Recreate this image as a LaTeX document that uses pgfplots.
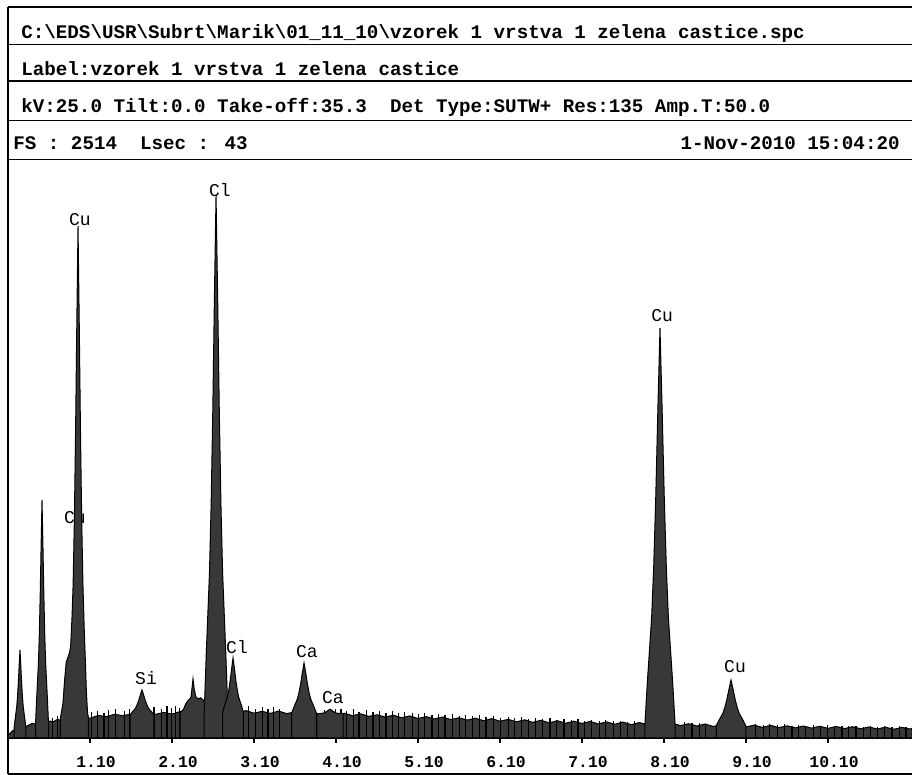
\documentclass[border=0pt]{standalone}
\usepackage{pgfplots}
\pgfplotsset{compat=1.18}
\usepackage{fontspec}
\setmainfont{Liberation Mono}
\newfontfamily\cour{Liberation Mono}
\begin{document}
\begin{tikzpicture}[x=0.5pt,y=0.5pt,
  spec/.style={draw=black, line width=0.5pt, fill=black!78, mark=none},
  lab/.style={font=\cour\fontsize{9}{10}\selectfont, inner sep=0pt}]
\useasboundingbox (0,0) rectangle (912,775);
% frame and header rules
\draw[line width=0.75pt] (8,768) -- (912,768);
\draw[line width=0.75pt] (8,730.5) -- (912,730.5);
\draw[line width=0.75pt] (8,694) -- (912,694);
\draw[line width=0.75pt] (8,654.5) -- (912,654.5);
\draw[line width=0.75pt] (8,615.5) -- (912,615.5);
\draw[line width=0.6pt] (8,768) -- (8,1);
\draw[line width=0.75pt] (8,1) -- (912,1);
% header texts
\begin{scope}[every node/.style={inner sep=0pt, font=\cour\bfseries\fontsize{9.6}{11}\selectfont}]
\node[anchor=base west] at (21,736) {C:\textbackslash EDS\textbackslash USR\textbackslash Subrt\textbackslash Marik\textbackslash 01\_11\_10\textbackslash vzorek 1 vrstva 1 zelena castice.spc};
\node[anchor=base west] at (21,699.5) {Label:vzorek 1 vrstva 1 zelena castice};
\node[anchor=base west] at (21,662.5) {kV:25.0 Tilt:0.0 Take-off:35.3~~Det Type:SUTW+ Res:135 Amp.T:50.0};
\node[anchor=base west] at (13,625) {FS : 2514~~Lsec : 43};
\node[anchor=base east] at (900,625) {1-Nov-2010 15:04:20};
\end{scope}
\begin{axis}[
  at={(4pt,18.5pt)}, anchor=south west,
  scale only axis, width=452pt, height=289pt,
  xmin=0.1, xmax=11.124, ymin=0, ymax=2514,
  axis x line=bottom, axis y line=none,
  x axis line style={-, line width=0.9pt},
  xtick={1.1,2.1,3.1,4.1,5.1,6.1,7.1,8.1,9.1,10.1},
  xticklabels={1.10,2.10,3.10,4.10,5.10,6.10,7.10,8.10,9.10,10.10},
  ytick=\empty,
  tick align=outside, major tick length=2.5pt,
  tick style={black, line width=0.6pt},
  xticklabel style={font=\cour\bfseries\fontsize{8.2}{9}\selectfont, xshift=3pt, yshift=-3pt},
]
% label partly hidden by the Cu L peak
\node[lab] at (axis cs:0.917,957) {Cu};
% continuum background
\addplot[spec] coordinates {(0.1,10)(0.15,30)(0.2,40)(0.3,47)(0.4,64)(0.45,58)(0.5,62)(0.6,74)(0.65,70)(0.7,80)(0.75,78)(0.8,91)(0.9,85)(1.0,91)(1.1,86)(1.2,98)(1.3,93)(1.4,103)(1.5,97)(1.6,104)(1.7,100)(1.8,110)(1.9,103)(2.0,111)(2.1,104)(2.2,115)(2.3,108)(2.4,116)(2.5,109)(2.6,118)(2.7,110)(2.8,117)(2.9,109)(3.0,119)(3.1,108)(3.2,116)(3.3,107)(3.4,117)(3.5,106)(3.6,114)(3.7,105)(3.8,113)(3.9,102)(4.0,111)(4.1,100)(4.2,108)(4.3,97)(4.4,105)(4.5,94)(4.6,101)(4.7,91)(4.8,99)(4.9,88)(5.0,96)(5.1,85)(5.2,93)(5.3,83)(5.4,91)(5.5,80)(5.6,88)(5.7,78)(5.8,86)(5.9,75)(6.0,84)(6.1,73)(6.2,81)(6.3,70)(6.4,79)(6.5,68)(6.6,77)(6.7,66)(6.8,75)(6.9,64)(7.0,73)(7.1,63)(7.2,72)(7.3,61)(7.4,70)(7.5,60)(7.6,69)(7.7,58)(7.8,67)(7.9,57)(8.0,66)(8.1,55)(8.2,64)(8.3,54)(8.4,62)(8.5,52)(8.6,61)(8.7,50)(8.8,59)(8.9,49)(9.0,57)(9.1,48)(9.2,56)(9.3,46)(9.4,55)(9.5,45)(9.6,53)(9.7,44)(9.8,52)(9.9,43)(10.0,51)(10.1,42)(10.2,50)(10.3,41)(10.4,49)(10.5,40)(10.6,48)(10.7,39)(10.8,47)(10.9,38)(11.0,46)(11.1,39)(11.124,41)} \closedcycle;
% noise spikes
\addplot[ycomb, black, line width=0.6pt, mark=none] coordinates {(0.64,88)(0.70,95)(1.12,112)(1.19,118)(1.27,108)(1.33,120)(1.41,125)(1.52,118)(1.58,128)(1.67,120)(1.88,135)(1.97,128)(2.04,140)(2.09,132)(2.14,138)(2.19,130)(2.95,130)(3.03,138)(3.12,127)(3.20,135)(3.27,125)(3.34,133)(3.41,128)(3.96,120)(4.09,124)(4.16,128)(4.23,118)(4.31,124)(4.38,115)(4.47,120)(4.55,112)(4.63,118)(4.71,110)(4.79,116)(4.86,108)(4.94,114)(5.03,110)(5.11,104)(5.18,108)(5.27,100)(5.35,106)(5.43,98)(5.52,104)(5.61,96)(5.68,100)(5.76,94)(5.85,98)(5.93,92)(6.02,95)(6.11,88)(6.20,92)(6.28,86)(6.36,90)(6.45,84)(6.53,88)(6.62,82)(6.71,86)(6.79,80)(6.88,84)(6.97,78)(7.05,82)(7.13,76)(7.22,80)(7.31,74)(7.39,78)(7.48,72)(7.57,76)(7.65,70)(7.74,74)(8.35,68)(8.44,65)(8.53,66)(8.61,62)(9.22,60)(9.31,58)(9.39,62)(9.48,56)(9.57,60)(9.66,54)(9.74,58)(9.83,53)(9.92,56)(10.01,52)(10.09,55)(10.18,51)(10.27,54)(10.35,50)(10.44,53)(10.53,49)(10.62,52)(10.70,48)(10.79,51)(10.88,47)(10.97,50)(11.05,46)};
% C K
\addplot[spec] coordinates {(0.174,43)(0.186,80)(0.206,135)(0.216,179)(0.226,240)(0.236,315)(0.246,383)(0.256,315)(0.266,240)(0.276,179)(0.286,135)(0.306,80)(0.318,45)} \closedcycle;
% O K
\addplot[spec] coordinates {(0.436,62)(0.449,169)(0.471,325)(0.482,451)(0.493,626)(0.504,840)(0.515,1035)(0.526,840)(0.537,626)(0.548,451)(0.559,325)(0.581,169)(0.594,64)} \closedcycle;
% Cu L
\addplot[spec] coordinates {(0.74,88)(0.77,150)(0.79,250)(0.81,330)(0.83,350)(0.85,370)(0.864,400)(0.88,520)(0.894,666)(0.909,944)(0.924,1329)(0.939,1799)(0.954,2227)(0.969,1799)(0.984,1329)(0.999,944)(1.014,666)(1.029,480)(1.044,330)(1.056,200)(1.07,110)(1.08,90)} \closedcycle;
% Si K
\addplot[spec] coordinates {(1.590,100)(1.614,112)(1.654,129)(1.674,144)(1.694,163)(1.714,187)(1.734,209)(1.754,187)(1.774,163)(1.794,144)(1.814,129)(1.854,112)(1.878,100)} \closedcycle;
% hump left of Cl
\addplot[spec] coordinates {(2.20,110)(2.24,125)(2.27,150)(2.30,165)(2.33,175)(2.345,220)(2.356,257)(2.37,215)(2.39,180)(2.42,170)(2.45,175)(2.48,165)(2.51,150)} \closedcycle;
% Cl K alpha
\addplot[spec] coordinates {(2.493,112)(2.517,360)(2.557,720)(2.577,1012)(2.597,1417)(2.617,1912)(2.637,2362)(2.657,1912)(2.677,1417)(2.697,1012)(2.717,720)(2.757,360)(2.781,112)} \closedcycle;
% Cl K beta
\addplot[spec] coordinates {(2.718,113)(2.739,139)(2.774,176)(2.792,207)(2.809,249)(2.827,301)(2.844,348)(2.862,301)(2.879,249)(2.897,207)(2.914,176)(2.949,139)(2.970,113)} \closedcycle;
% Ca K alpha
\addplot[spec] coordinates {(3.559,108)(3.584,132)(3.626,167)(3.647,195)(3.668,234)(3.689,282)(3.71,326)(3.731,282)(3.752,234)(3.773,195)(3.794,167)(3.836,132)(3.861,108)} \closedcycle;
% Ca K beta
\addplot[spec] coordinates {(3.867,105)(3.947,108)(3.987,115)(4.007,121)(4.027,125)(4.047,121)(4.067,115)(4.107,108)(4.187,105)} \closedcycle;
% Cu K alpha
\addplot[spec] coordinates {(7.867,60)(7.898,250)(7.949,525)(7.9745,749)(8.0,1059)(8.0255,1438)(8.051,1783)(8.0765,1438)(8.102,1059)(8.1275,749)(8.153,525)(8.204,250)(8.235,60)} \closedcycle;
% Cu K beta
\addplot[spec] coordinates {(8.737,53)(8.767,75)(8.817,107)(8.842,133)(8.867,168)(8.892,212)(8.917,252)(8.942,212)(8.967,168)(8.992,133)(9.017,107)(9.067,75)(9.097,53)} \closedcycle;
% peak labels
\node[lab] at (axis cs:0.978,2253) {Cu};
\node[lab] at (axis cs:2.685,2384) {Cl};
\node[lab] at (axis cs:1.783,261) {Si};
\node[lab] at (axis cs:2.893,396) {Cl};
\node[lab] at (axis cs:3.746,374) {Ca};
\node[lab] at (axis cs:4.063,174) {Ca};
\node[lab] at (axis cs:8.076,1836) {Cu};
\node[lab] at (axis cs:8.966,309) {Cu};
\end{axis}
\end{tikzpicture}
\end{document}
